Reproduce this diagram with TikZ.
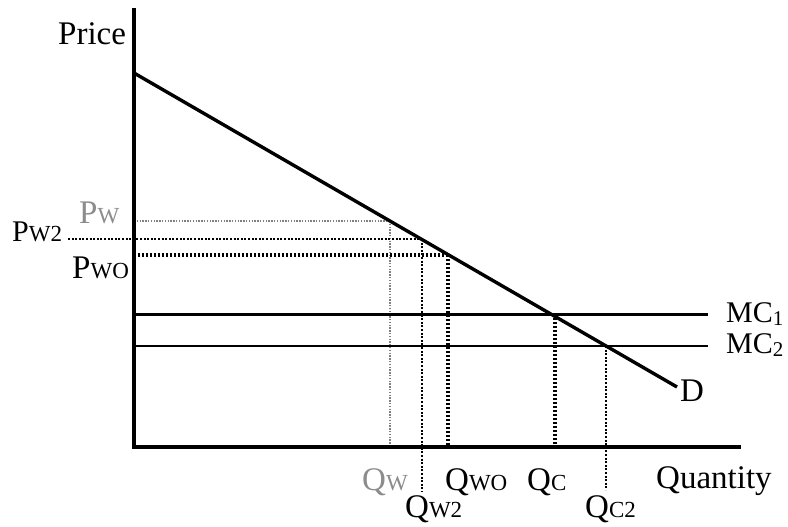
\documentclass[tikz,border=0pt]{standalone}
\usepackage{fontspec}
\setmainfont{Liberation Serif}
\newcommand\mysub[1]{{\fontsize{23}{26}\selectfont #1}}
\newcommand\myidx[1]{\raisebox{-3pt}{\fontsize{21}{24}\selectfont #1}}
\begin{document}
\begin{tikzpicture}[x=1pt,y=-1pt,
  lbl/.style={font=\fontsize{33}{37}\selectfont, inner sep=0pt, anchor=base west},
  mclbl/.style={lbl, font=\fontsize{30}{34}\selectfont},
  graylbl/.style={lbl, text=black!45},
  axisline/.style={line width=3.4pt},
  demand/.style={line width=3.4pt},
  mcone/.style={line width=3pt},
  mctwo/.style={line width=2pt},
  dotthin/.style={black!50, line width=1.6pt, dash pattern=on 1.4pt off 1.4pt},
  dotmed/.style={line width=2.6pt, dash pattern=on 2pt off 1.6pt},
  dotthick/.style={line width=3.4pt, dash pattern=on 2.4pt off 1.6pt}
]
\useasboundingbox (0,0) rectangle (788,527);
% key points
\coordinate (Ytop) at (134,8);
\coordinate (O) at (134,447);
\coordinate (Xend) at (741,447);
\coordinate (D0) at (134,73);
\coordinate (D1) at (677,387);
\coordinate (pW) at (390,221);
\coordinate (pW2) at (422,239);
\coordinate (pWO) at (448,255);
\coordinate (pC) at (555,314);
\coordinate (pC2) at (606,346);
\coordinate (mc1L) at (134,314);
\coordinate (mc1R) at (708,314);
\coordinate (mc2L) at (134,346);
\coordinate (mc2R) at (708,346);
\coordinate (yW) at (134,221);
\coordinate (yW2) at (68,239);
\coordinate (yWO) at (134,255);
\coordinate (xW) at (390,447);
\coordinate (xW2) at (422,492);
\coordinate (xWO) at (448,447);
\coordinate (xC) at (555,447);
\coordinate (xC2) at (606,490);
% dotted guide lines
\draw[dotthin] (yW) -- (pW);
\draw[dotthin] (pW) -- (xW);
\draw[dotmed] (yW2) -- (pW2);
\draw[dotmed] (pW2) -- (xW2);
\draw[dotthick] (yWO) -- (pWO);
\draw[dotthick] (pWO) -- (xWO);
\draw[dotthick] (pC) -- (xC);
\draw[dotmed] (pC2) -- (xC2);
% MC lines
\draw[mcone] (mc1L) -- (mc1R);
\draw[mctwo] (mc2L) -- (mc2R);
% demand
\draw[demand] (D0) -- (D1);
% axes
\draw[axisline] (Ytop) -- (O) -- (Xend);
% labels
\node[lbl] (price) at (58,45) {Price};
\node[lbl] (quantity) at (656,488) {Quantity};
\node[lbl] (dlbl) at (680,401) {D};
\node[mclbl] (mc1) at (726,322) {MC\myidx{1}};
\node[mclbl] (mc2) at (726,353) {MC\myidx{2}};
\node[graylbl] (lPW) at (79,223) {P\mysub{W}};
\node[lbl, font=\fontsize{30}{34}\selectfont] (lPW2) at (12,241) {P\mysub{W2}};
\node[lbl] (lPWO) at (72,278) {P\mysub{WO}};
\node[graylbl] (lQW) at (362,490) {Q\mysub{W}};
\node[lbl] (lQW2) at (405,517) {Q\mysub{W2}};
\node[lbl] (lQWO) at (445,490) {Q\mysub{WO}};
\node[lbl] (lQC) at (527,490) {Q\mysub{C}};
\node[lbl] (lQC2) at (585,517) {Q\mysub{C2}};
\end{tikzpicture}
\end{document}
